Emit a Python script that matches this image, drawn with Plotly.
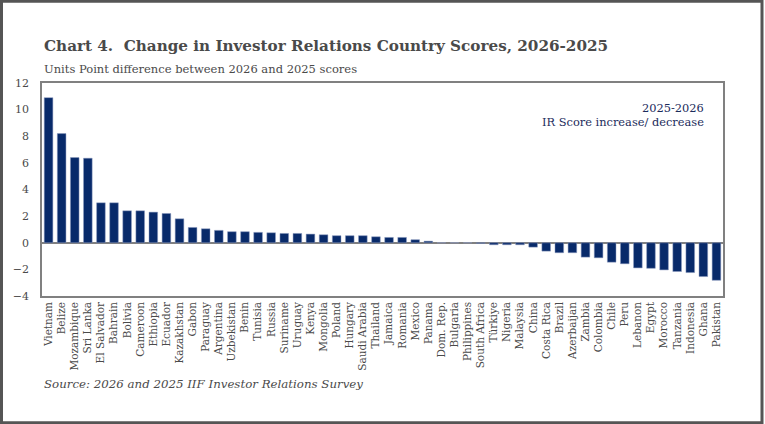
import plotly.graph_objects as go

countries = ["Vietnam", "Belize", "Mozambique", "Sri Lanka", "El Salvador", "Bahrain", "Bolivia",
             "Cameroon", "Ethiopia", "Ecuador", "Kazakhstan", "Gabon", "Paraguay", "Argentina",
             "Uzbekistan", "Benin", "Tunisia", "Russia", "Suriname", "Uruguay", "Kenya", "Mongolia",
             "Poland", "Hungary", "Saudi Arabia", "Thailand", "Jamaica", "Romania", "Mexico", "Panama",
             "Dom. Rep.", "Bulgaria", "Philippines", "South Africa", "Türkiye", "Nigeria", "Malaysia",
             "China", "Costa Rica", "Brazil", "Azerbaijan", "Zambia", "Colombia", "Chile", "Peru",
             "Lebanon", "Egypt", "Morocco", "Tanzania", "Indonesia", "Ghana", "Pakistan"]

score_change = [10.9, 8.2, 6.4, 6.35, 3.0, 3.0, 2.4, 2.4, 2.3, 2.2, 1.8, 1.15, 1.05, 0.93,
                0.83, 0.83, 0.78, 0.75, 0.7, 0.7, 0.65, 0.6, 0.53, 0.53, 0.53, 0.45, 0.4, 0.4,
                0.23, 0.12, 0.0, 0.0, 0.0, -0.05, -0.15, -0.15, -0.15, -0.33, -0.63, -0.75,
                -0.75, -1.08, -1.13, -1.46, -1.58, -1.89, -1.92, -2.04, -2.16, -2.24, -2.54, -2.82]

y_ticks = [-4, -2, 0, 2, 4, 6, 8, 10, 12]

title = "Chart 4.  Change in Investor Relations Country Scores, 2026-2025"
subtitle = "Units Point difference between 2026 and 2025 scores"
legend_lines = ["2025-2026", "IR Score increase/ decrease"]
source = "Source: 2026 and 2025 IIF Investor Relations Survey"

SERIF = "DejaVu Serif"
BAR = "#082a6a"
TXT = "#4a4a4a"
AX = "#808080"

fig = go.Figure(go.Bar(x=countries, y=score_change,
                       marker=dict(color=BAR, line=dict(width=0.5, color="#8f9cc0"))))

W, H = 765, 424
L, R, T, B = 42, 42, 83, 128
pw, ph = W - L - R, H - T - B

def px(x):
    return (x - L) / pw

def py(y):
    return (H - B - y) / ph

fig.update_layout(
    width=W, height=H,
    margin=dict(l=L, r=R, t=T, b=B),
    paper_bgcolor="white", plot_bgcolor="white",
    bargap=0.34,
    showlegend=False,
    font=dict(family=SERIF, color=TXT, size=11),
    xaxis=dict(showline=True, linecolor=AX, linewidth=1.5, mirror=True, tickangle=-90,
               showgrid=False, ticks="", tickfont=dict(size=10.5, color=TXT, family=SERIF)),
    yaxis=dict(range=[-4, 12], tickvals=y_ticks, showline=True, linecolor=AX, linewidth=1.5,
               mirror=True, showgrid=False, zeroline=True, zerolinecolor=AX, zerolinewidth=1.5,
               ticks="", ticklabelstandoff=9, tickfont=dict(size=11, color=TXT, family=SERIF)),
    annotations=[
        dict(text="<b>" + title + "</b>", x=px(42), y=py(46), xref="paper", yref="paper",
             xanchor="left", yanchor="middle", showarrow=False,
             font=dict(size=15.2, color=TXT, family=SERIF)),
        dict(text=subtitle, x=px(42), y=py(69), xref="paper", yref="paper",
             xanchor="left", yanchor="middle", showarrow=False,
             font=dict(size=11.5, color=TXT, family=SERIF)),
        dict(text=legend_lines[0], x=px(706), y=py(108), xref="paper", yref="paper",
             xanchor="right", yanchor="middle", showarrow=False,
             font=dict(size=11.4, color="#1c2c5c", family=SERIF)),
        dict(text=legend_lines[1], x=px(706), y=py(122), xref="paper", yref="paper",
             xanchor="right", yanchor="middle", showarrow=False,
             font=dict(size=11.4, color="#1c2c5c", family=SERIF)),
        dict(text="<i>" + source + "</i>", x=px(42), y=py(384), xref="paper", yref="paper",
             xanchor="left", yanchor="middle", showarrow=False,
             font=dict(size=11.8, color=TXT, family=SERIF)),
    ],
    shapes=[dict(type="rect", xref="paper", yref="paper", x0=px(1.5), x1=px(762), y0=py(422.7),
                 y1=py(1.3), line=dict(color="#555555", width=3), fillcolor="rgba(0,0,0,0)",
                 layer="below")],
)

fig.write_html("out.html", config={"displayModeBar": False},
               post_script="document.body.style.margin='0';document.body.style.padding='0';"
                           "document.body.style.overflow='hidden';")
